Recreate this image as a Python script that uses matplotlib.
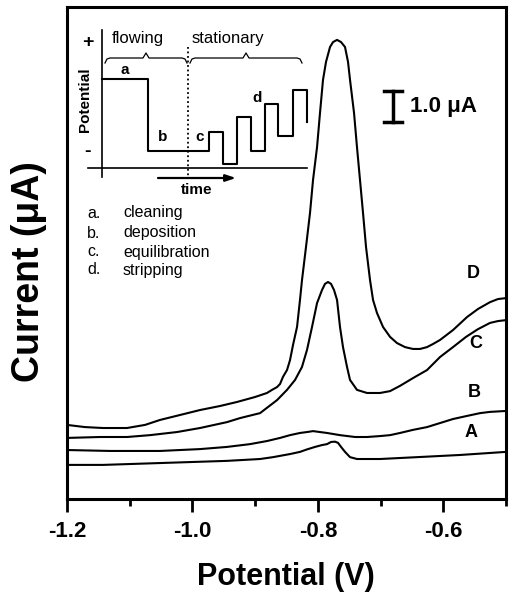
import matplotlib
matplotlib.use("Agg")
import matplotlib.pyplot as plt
from matplotlib.ticker import FixedLocator

plt.rcParams['font.family'] = ['Liberation Sans', 'DejaVu Sans']

# ---------------- data (potential in V, current in uA, offset traces) ----------------
A_x = [-1.2000, -1.1426, -1.0517, -0.9449, -0.8922, -0.8715, -0.8444, -0.8285, -0.8173,
       -0.8045, -0.7934, -0.7854, -0.7790, -0.7726, -0.7678, -0.7630, -0.7567, -0.7487,
       -0.7376, -0.7009, -0.6419, -0.5733, -0.5000]
A_y = [1.10, 1.10, 1.16, 1.23, 1.29, 1.35, 1.45, 1.52, 1.60,
       1.68, 1.74, 1.77, 1.84, 1.85, 1.81, 1.68, 1.52, 1.35,
       1.29, 1.29, 1.35, 1.42, 1.52]

B_x = [-1.2000, -1.1314, -1.0517, -0.9879, -0.9449, -0.9082, -0.8811, -0.8603, -0.8444,
       -0.8285, -0.8173, -0.8077, -0.7966, -0.7854, -0.7647, -0.7407, -0.7216, -0.7009,
       -0.6849, -0.6690, -0.6483, -0.6259, -0.6052, -0.5845, -0.5621, -0.5414, -0.5255,
       -0.5000]
B_y = [1.58, 1.55, 1.55, 1.61, 1.68, 1.77, 1.87, 1.97, 2.06,
       2.13, 2.16, 2.19, 2.16, 2.13, 2.06, 2.00, 2.00, 2.03,
       2.06, 2.13, 2.23, 2.32, 2.45, 2.58, 2.68, 2.77, 2.81,
       2.84]

C_x = [-1.2000, -1.1474, -1.1043, -1.0676, -1.0246, -0.9879, -0.9449, -0.9241, -0.8922,
       -0.8651, -0.8492, -0.8364, -0.8253, -0.8173, -0.8093, -0.8013, -0.7934, -0.7886,
       -0.7838, -0.7790, -0.7742, -0.7694, -0.7647, -0.7599, -0.7535, -0.7487, -0.7376,
       -0.7216, -0.7009, -0.6849, -0.6690, -0.6483, -0.6259, -0.6052, -0.5845, -0.5637,
       -0.5446, -0.5255, -0.5128, -0.5000]
C_y = [1.97, 2.00, 2.00, 2.06, 2.16, 2.29, 2.48, 2.61, 2.77,
       3.19, 3.52, 3.84, 4.26, 4.81, 5.55, 6.32, 6.74, 6.94,
       7.00, 6.94, 6.74, 6.42, 5.55, 4.90, 4.26, 3.84, 3.52,
       3.42, 3.42, 3.48, 3.65, 3.90, 4.16, 4.58, 4.90, 5.23,
       5.48, 5.68, 5.74, 5.77]

D_x = [-1.2000, -1.1713, -1.1426, -1.1043, -1.0756, -1.0517, -1.0198, -0.9879, -0.9560,
       -0.9289, -0.9002, -0.8811, -0.8731, -0.8651, -0.8603, -0.8556, -0.8492, -0.8444,
       -0.8396, -0.8332, -0.8285, -0.8253, -0.8189, -0.8125, -0.8077, -0.8013, -0.7966,
       -0.7918, -0.7870, -0.7806, -0.7758, -0.7694, -0.7630, -0.7567, -0.7519, -0.7487,
       -0.7423, -0.7376, -0.7328, -0.7280, -0.7232, -0.7168, -0.7120, -0.7057, -0.6961,
       -0.6849, -0.6738, -0.6610, -0.6483, -0.6371, -0.6259, -0.6164, -0.6052, -0.5845,
       -0.5621, -0.5446, -0.5255, -0.5128, -0.5000]
D_y = [2.39, 2.32, 2.29, 2.29, 2.39, 2.55, 2.71, 2.87, 3.00,
       3.13, 3.29, 3.42, 3.52, 3.61, 3.71, 3.94, 4.16, 4.48,
       4.97, 5.55, 6.42, 7.06, 8.13, 9.23, 10.29, 11.35, 12.45,
       13.52, 14.10, 14.58, 14.74, 14.81, 14.74, 14.58, 14.10, 13.52,
       12.45, 11.35, 10.29, 9.23, 8.13, 7.06, 6.42, 6.00, 5.55,
       5.23, 5.03, 4.90, 4.84, 4.84, 4.90, 5.00, 5.13, 5.45,
       5.87, 6.13, 6.35, 6.45, 6.48]

curve_names = ['A', 'B', 'C', 'D']
label_x = [-0.555, -0.551, -0.548, -0.553]
label_y = [2.13, 3.45, 5.03, 7.26]

xtick_major = [-1.2, -1.0, -0.8, -0.6]
xtick_labels = ['-1.2', '-1.0', '-0.8', '-0.6']
xtick_minor = [-1.1, -0.9, -0.7, -0.5]

# inset schematic (inset coordinates)
wave_t = [102, 148, 148, 209, 209, 223, 223, 237, 237, 251, 251, 265, 265, 278, 278, 293, 293, 307, 307]
wave_v = [79, 79, 151, 151, 132, 132, 164, 164, 117, 117, 151, 151, 104, 104, 136, 136, 90, 90, 122]
step_names = ['a', 'b', 'c', 'd']
step_x = [125, 163, 200, 257]
step_y = [70, 137, 137, 98]
legend_keys = ['a.', 'b.', 'c.', 'd.']
legend_words = ['cleaning', 'deposition', 'equilibration', 'stripping']
legend_y = [213, 233, 252, 270]

# ---------------- figure ----------------
W, H = 512, 600
fig = plt.figure(figsize=(W / 100, H / 100), dpi=100)
ax = fig.add_axes([67 / W, 1 - 499 / H, (506 - 67) / W, (499 - 7) / H])

for xs, ys in [(A_x, A_y), (B_x, B_y), (C_x, C_y), (D_x, D_y)]:
    ax.plot(xs, ys, color='black', lw=1.5, solid_joinstyle='round')

for n, lx, ly in zip(curve_names, label_x, label_y):
    ax.text(lx, ly, n, fontsize=13, fontweight='bold', ha='center', va='center')

ax.set_xlim(-1.2, -0.5)
ax.set_ylim(0, 492 / 31)
ax.xaxis.set_major_locator(FixedLocator(xtick_major))
ax.set_xticklabels(xtick_labels)
ax.xaxis.set_minor_locator(FixedLocator(xtick_minor))
ax.set_yticks([])
ax.tick_params(axis='x', which='major', length=9.5, width=2, direction='out', pad=6,
               labelsize=16)
ax.tick_params(axis='x', which='minor', length=5, width=2, direction='out')
for lbl in ax.get_xticklabels():
    lbl.set_fontweight('bold')
for s in ax.spines.values():
    s.set_linewidth(2.2)

fig.text(286 / W, 1 - 577 / H, 'Potential (V)', fontsize=22, fontweight='bold',
         ha='center', va='center')
fig.text(29 / W, 1 - 272 / H, 'Current (\u03bcA)', fontsize=27, fontweight='bold',
         ha='center', va='center', rotation=90)

# scale bar (1.0 uA)
bar_x = -1.2 + (393 - 67) / 627.1
bar_lo = (499 - 122) / 31
bar_hi = bar_lo + 1.0
cap = 0.0145
ax.plot([bar_x, bar_x], [bar_lo, bar_hi], color='black', lw=2.5)
ax.plot([bar_x - cap, bar_x + cap], [bar_lo, bar_lo], color='black', lw=2.5)
ax.plot([bar_x - cap, bar_x + cap], [bar_hi, bar_hi], color='black', lw=2.5)
ax.text(bar_x + 0.027, (bar_lo + bar_hi) / 2, '1.0 \u03bcA', fontsize=16, fontweight='bold',
        ha='left', va='center')

# ---------------- inset ----------------
x0, x1, y0, y1 = 70, 330, 20, 285
axi = fig.add_axes([x0 / W, 1 - y1 / H, (x1 - x0) / W, (y1 - y0) / H])
axi.set_xlim(x0, x1)
axi.set_ylim(y1, y0)
axi.axis('off')
axi.patch.set_alpha(0)

axi.plot([102, 102], [30, 177], color='black', lw=1.2)
axi.plot([88, 307], [168, 168], color='black', lw=1.2)
axi.plot(wave_t, wave_v, color='black', lw=1.5)
axi.plot([188, 188], [47, 176], color='black', lw=1.3, ls=(0, (1, 1.5)))

axi.text(88, 43, '+', fontsize=14, fontweight='bold', ha='center', va='center')
axi.text(88, 152, '-', fontsize=14, fontweight='bold', ha='center', va='center')
axi.text(85, 100, 'Potential', fontsize=11, fontweight='bold', ha='center', va='center',
         rotation=90)
axi.text(138, 38, 'flowing', fontsize=12, ha='center', va='center')
axi.text(228, 38, 'stationary', fontsize=12, ha='center', va='center')


def brace(xa, xb, y):
    xm = (xa + xb) / 2
    bx = [xa, xa + 2, xa + 5, xm - 3, xm, xm + 3, xb - 5, xb - 2, xb]
    by = [y + 5, y + 1, y, y, y - 5, y, y, y + 1, y + 5]
    axi.plot(bx, by, color='black', lw=0.9)


brace(105, 187, 58)
brace(190, 302, 58)

for n, sx, sy in zip(step_names, step_x, step_y):
    axi.text(sx, sy, n, fontsize=11, fontweight='bold', ha='center', va='center')

axi.annotate('', xy=(236, 178), xytext=(158, 178),
             arrowprops=dict(arrowstyle='-|>,head_length=0.6,head_width=0.2',
                             color='black', lw=1.6, shrinkA=0, shrinkB=0))
axi.text(197, 190, 'time', fontsize=11, fontweight='bold', ha='center', va='center')

for k, w, ly in zip(legend_keys, legend_words, legend_y):
    axi.text(87, ly, k, fontsize=11.5, ha='left', va='center')
    axi.text(123, ly, w, fontsize=11.5, ha='left', va='center')

fig.savefig('out.png', dpi=100)
